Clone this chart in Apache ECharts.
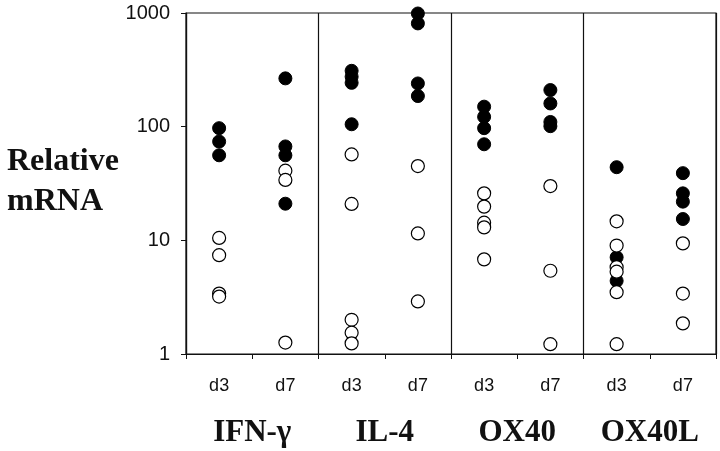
<!DOCTYPE html>
<html><head><meta charset="utf-8">
<script src="https://cdn.jsdelivr.net/npm/echarts@6/dist/echarts.min.js"></script>
<style>html,body{margin:0;padding:0;background:#fff}#c{width:720px;height:451px}</style>
</head><body><div id="c"></div>
<script>
const days = ['d3','d7','d3','d7','d3','d7','d3','d7'];
const groups = ['IFN-γ','IL-4','OX40','OX40L'];
const yTicks = [1, 10, 100, 1000];
// filled circles per column
const filledVals = [
  [97, 74, 56],
  [266, 67, 56, 21],
  [310, 275, 243, 105],
  [990, 810, 240, 186],
  [150, 122, 97, 70],
  [210, 160, 110, 101],
  [44, 7.1, 4.4],
  [39, 25.9, 21.9, 15.4]
];
// open circles per column
const openVals = [
  [10.5, 7.4, 3.4, 3.2],
  [41, 34, 1.26],
  [57, 20.9, 2.0, 1.54, 1.24],
  [45, 11.5, 2.9],
  [25.9, 19.8, 14.3, 13.0, 6.8],
  [30, 5.4, 1.22],
  [14.7, 9.0, 5.8, 5.3, 3.5, 1.22],
  [9.4, 3.4, 1.86]
];
function toPts(cols){const out=[];cols.forEach((arr,i)=>arr.forEach(v=>out.push([i,v])));return out;}
const chart = echarts.init(document.getElementById('c'), null, {renderer:'canvas'});
chart.setOption({
  animation:false,
  backgroundColor:'#fff',
  title:{text:'Relative\nmRNA',left:2,top:137,textStyle:{fontFamily:'Liberation Serif',fontWeight:'bold',fontSize:32,lineHeight:40,color:'#111'}},
  grid:{left:186,right:4,top:13,bottom:97,show:true,borderColor:'#111',borderWidth:1.2,backgroundColor:'transparent'},
  xAxis:[{
    type:'category',data:days,boundaryGap:true,
    axisLine:{lineStyle:{color:'#111',width:1.2}},
    axisTick:{show:true,length:5,inside:false,lineStyle:{color:'#111'}},
    axisLabel:{margin:23,fontFamily:'Liberation Sans',fontSize:18,color:'#111'},
    splitLine:{show:false}
  },{
    type:'category',data:groups,position:'bottom',boundaryGap:true,
    axisLine:{show:false},axisTick:{show:false},
    axisLabel:{margin:63,fontFamily:'Liberation Serif',fontWeight:'bold',fontSize:31,color:'#111'},
    splitLine:{show:true,lineStyle:{color:'#111',width:1.2}}
  }],
  yAxis:{
    type:'log',logBase:10,min:1,max:1000,
    axisLine:{show:true,lineStyle:{color:'#111',width:1.2}},
    axisTick:{show:true,length:5,lineStyle:{color:'#111'}},
    minorTick:{show:false},
    splitLine:{show:false},
    axisLabel:{margin:16,fontFamily:'Liberation Sans',fontSize:20,color:'#111',
      formatter:v=>yTicks.includes(Math.round(v))?String(Math.round(v)):''}
  },
  series:[
    {type:'scatter',xAxisIndex:0,data:toPts(filledVals),symbol:'circle',symbolSize:13,
     itemStyle:{color:'#000',borderColor:'#000',borderWidth:1,opacity:1},z:2},
    {type:'scatter',xAxisIndex:0,data:toPts(openVals),symbol:'circle',symbolSize:13,
     itemStyle:{color:'#fff',borderColor:'#000',borderWidth:1.2,opacity:1},z:3}
  ]
});
</script></body></html>
